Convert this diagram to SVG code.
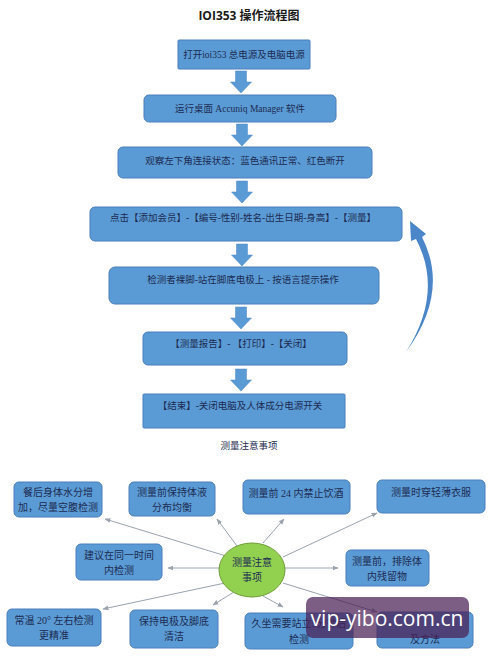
<svg xmlns="http://www.w3.org/2000/svg" width="492" height="661" viewBox="0 0 492 661">
<defs>
<style>
.bx{fill:#5b9bd5;stroke:#4a7ebb;stroke-width:1}
.t{font-family:"Liberation Serif","Noto Sans CJK SC",serif;font-size:9.5px;fill:#1c2b52;text-anchor:middle}
.tb{font-family:"Liberation Serif","Noto Sans CJK SC",serif;font-size:10px;fill:#1c2b52;text-anchor:middle}
.ba{fill:#5b9bd5;stroke:#4a86c8;stroke-width:0.5}
.cn{stroke:#9aa3ae;stroke-width:1;fill:none;marker-end:url(#ah)}
</style>
<marker id="ah" viewBox="0 0 10 10" refX="9" refY="5" markerWidth="6" markerHeight="6" orient="auto">
<path d="M0,1 L10,5 L0,9 Z" fill="#9aa3ae"/>
</marker>
<path id="barrow" d="M-5.5,0 H5.5 V11 H10.5 L0,22 L-10.5,11 H-5.5 Z"/>
</defs>
<rect width="492" height="661" fill="#ffffff"/>
<text x="249" y="20" font-family="'Open Sans','Noto Sans CJK SC',sans-serif" font-size="12" font-weight="bold" fill="#1a1a1a" text-anchor="middle">IOI353  操作流程图</text>

<g id="connectors">
<use href="#barrow" class="ba" x="241" y="71"/>
<use href="#barrow" class="ba" x="242" y="124"/>
<use href="#barrow" class="ba" x="242" y="181"/>
<use href="#barrow" class="ba" x="242" y="244"/>
<use href="#barrow" class="ba" x="241" y="307"/>
<use href="#barrow" class="ba" x="241" y="369"/>
<path d="M406,352 Q450,292 422,237 L426,234 L410,221 L411,241 L416,239 Q444,292 406,352 Z" fill="#4a86c8"/>
<line class="cn" x1="226" y1="556" x2="105" y2="519"/>
<line class="cn" x1="237" y1="546" x2="217" y2="519"/>
<line class="cn" x1="263" y1="543" x2="284" y2="519"/>
<line class="cn" x1="283" y1="557" x2="377" y2="513"/>
<line class="cn" x1="219" y1="568" x2="168" y2="568"/>
<line class="cn" x1="285" y1="568" x2="338" y2="568"/>
<line class="cn" x1="225" y1="583" x2="103" y2="609"/>
<line class="cn" x1="234" y1="592" x2="213" y2="605"/>
<line class="cn" x1="263" y1="596" x2="283" y2="607"/>
<line class="cn" x1="283" y1="583" x2="377" y2="612"/>
</g>

<g id="n1"><rect class="bx" x="178" y="40" width="132" height="29" rx="1"/><text class="t" x="244" y="57.5">打开ioi353 总电源及电脑电源</text></g>
<g id="n2"><rect class="bx" x="144" y="95" width="192" height="27" rx="5"/><text class="t" x="240" y="111.5">运行桌面 Accuniq Manager 软件</text></g>
<g id="n3"><rect class="bx" x="118" y="147" width="254" height="31" rx="5"/><text class="t" x="245" y="164">观察左下角连接状态：蓝色通讯正常、红色断开</text></g>
<g id="n4"><rect class="bx" x="90" y="207" width="312" height="34" rx="5"/><text class="t" x="243" y="221">点击【添加会员】-【编号-性别-姓名-出生日期-身高】-【测量】</text></g>
<g id="n5"><rect class="bx" x="109" y="267" width="270" height="37" rx="6"/><text class="t" x="243" y="283">检测者裸脚-站在脚底电极上 - 按语言提示操作</text></g>
<g id="n6"><rect class="bx" x="143" y="332" width="204" height="33" rx="5"/><text class="t" x="241" y="347">【测量报告】- 【打印】-【关闭】</text></g>
<g id="n7"><rect class="bx" x="143" y="394" width="202" height="34" rx="1"/><text class="t" x="240" y="409">【结束】-关闭电脑及人体成分电源开关</text></g>

<text class="t" x="249" y="449" fill="#333">测量注意事项</text>

<g id="c0"><ellipse cx="252" cy="570" rx="33" ry="27" fill="#92d050" stroke="#6f9d3a" stroke-width="1"/><text class="tb" x="252" y="566">测量注意</text><text class="tb" x="252" y="581">事项</text></g>
<g id="b1"><rect class="bx" x="14" y="482" width="88" height="35" rx="5"/><text class="tb" x="58" y="496">餐后身体水分增</text><text class="tb" x="58" y="511">加，尽量空腹检测</text></g>
<g id="b2"><rect class="bx" x="129" y="482" width="86" height="34" rx="5"/><text class="tb" x="172" y="496">测量前保持体液</text><text class="tb" x="172" y="511">分布均衡</text></g>
<g id="b3"><rect class="bx" x="243" y="480" width="107" height="34" rx="5"/><text class="tb" x="296" y="497">测量前 24 内禁止饮酒</text></g>
<g id="b4"><rect class="bx" x="377" y="480" width="108" height="33" rx="5"/><text class="tb" x="431" y="496">测量时穿轻薄衣服</text></g>
<g id="b5"><rect class="bx" x="76" y="544" width="86" height="36" rx="5"/><text class="tb" x="119" y="559">建议在同一时间</text><text class="tb" x="119" y="574">内检测</text></g>
<g id="b6"><rect class="bx" x="346" y="550" width="83" height="36" rx="5"/><text class="tb" x="387" y="565">测量前，排除体</text><text class="tb" x="387" y="580">内残留物</text></g>
<g id="b7"><rect class="bx" x="7" y="609" width="94" height="37" rx="5"/><text class="tb" x="54" y="624">常温 20° 左右检测</text><text class="tb" x="54" y="639">更精准</text></g>
<g id="b8"><rect class="bx" x="130" y="610" width="88" height="38" rx="5"/><text class="tb" x="174" y="625">保持电极及脚底</text><text class="tb" x="174" y="640">清洁</text></g>
<g id="b9"><rect class="bx" x="245" y="613" width="108" height="36" rx="5"/><text class="tb" x="299" y="627">久坐需要站立5分钟后</text><text class="tb" x="299" y="643">检测</text></g>
<g id="b10"><rect class="bx" x="377" y="612" width="96" height="36" rx="5"/><text class="tb" x="425" y="643">及方法</text></g>

<g id="watermark"><rect x="306" y="597" width="163" height="41" rx="7" fill="#4a1f55" fill-opacity="0.72"/><text x="387" y="626" font-family="'Open Sans','DejaVu Sans',sans-serif" font-size="21" fill="#ffffff" text-anchor="middle">vip-yibo.com.cn</text></g>
</svg>
